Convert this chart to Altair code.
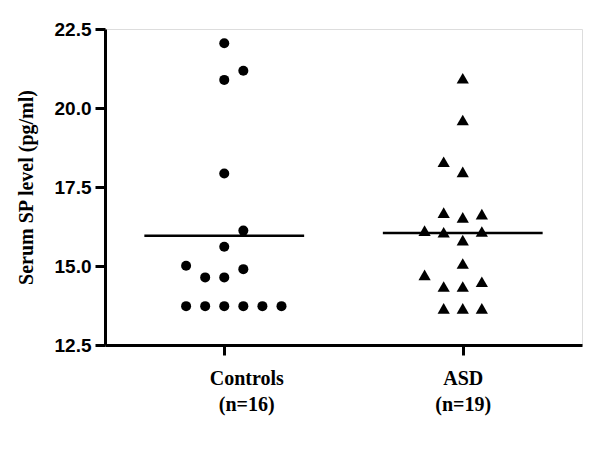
import altair as alt
import pandas as pd

# ---- data ----
group_names = ["Controls", "ASD"]
group_labels = [["Controls", "(n=16)"], ["ASD", "(n=19)"]]

controls_values = [22.05, 21.18, 20.89, 17.93, 16.12, 15.61, 15.01, 14.90,
                   14.64, 14.64, 13.73, 13.73, 13.73, 13.73, 13.73, 13.73]
controls_slots = [0, 1, 0, 0, 1, 0, -2, 1, -1, 0, -2, -1, 0, 1, 2, 3]

asd_values = [20.94, 19.62, 18.30, 17.98, 16.69, 16.54, 16.64, 16.12, 16.07,
              16.09, 15.82, 15.08, 14.72, 14.35, 14.35, 14.50, 13.66, 13.66, 13.66]
asd_slots = [0, 0, -1, 0, -1, 0, 1, -2, -1, 1, 0, 0, -2, -1, 0, 1, -1, 0, 1]

y_ticks = [12.5, 15.0, 17.5, 20.0, 22.5]

rows = []
for gi, (vals, slots) in enumerate([(controls_values, controls_slots),
                                     (asd_values, asd_slots)]):
    for v, s in zip(vals, slots):
        rows.append({"group": group_names[gi], "gidx": gi, "slot": s, "value": v})
df = pd.DataFrame(rows)

label_expr = ("datum.value == 0 ? ['%s', '%s'] : datum.value == 1 ? ['%s', '%s'] : ''"
              % (group_labels[0][0], group_labels[0][1],
                 group_labels[1][0], group_labels[1][1]))

x_scale = alt.Scale(domain=[-0.5, 1.5], nice=False, zero=False)
y_scale = alt.Scale(domain=[12.5, 22.5], nice=False, zero=False)

x_axis = alt.Axis(values=[0, 1], labelExpr=label_expr, title=None, grid=False,
                  labelFont="Liberation Serif", labelFontWeight="bold", labelFontSize=20,
                  labelLineHeight=26, labelPadding=13, labelColor="black",
                  labelOffset={"condition": {"test": "datum.value == 0", "value": 22},
                               "value": 0},
                  domainColor="black", domainWidth=3, tickColor="black",
                  tickWidth=3, tickSize=10)
y_axis = alt.Axis(values=y_ticks, format=".1f", title="Serum SP level (pg/ml)", grid=False,
                  titleFont="Liberation Serif", titleFontWeight="bold", titleFontSize=20,
                  titleColor="black", titlePadding=18,
                  labelFont="Liberation Sans", labelFontWeight="bold", labelFontSize=19,
                  labelColor="black", labelPadding=4,
                  domainColor="black", domainWidth=3, tickColor="black",
                  tickWidth=3, tickSize=10)

base = alt.Chart(df)

points = base.transform_calculate(
    xpos="datum.gidx + datum.slot * 0.08"
).mark_point(filled=True, opacity=1, color="black").encode(
    x=alt.X("xpos:Q", scale=x_scale, axis=x_axis),
    y=alt.Y("value:Q", scale=y_scale, axis=y_axis),
    shape=alt.Shape("group:N", scale=alt.Scale(domain=group_names,
                                               range=["circle", "triangle-up"]),
                    legend=None),
    size=alt.Size("group:N", scale=alt.Scale(domain=group_names, range=[100, 150]),
                  legend=None),
)

means = base.transform_aggregate(
    mean_value="mean(value)", groupby=["gidx"]
).transform_calculate(
    x1="datum.gidx - 0.335", x2="datum.gidx + 0.335"
).mark_rule(color="black", strokeWidth=2.5).encode(
    x=alt.X("x1:Q", scale=x_scale),
    x2="x2:Q",
    y=alt.Y("mean_value:Q", scale=y_scale),
)

chart = alt.layer(points, means).properties(
    width=477, height=316,
    autosize=alt.AutoSizeParams(type="none"),
    padding={"left": 97, "top": 21, "right": 10, "bottom": 80},
).configure_view(stroke=None).configure(background="white")

chart.save("out.html", embed_options={"renderer": "svg", "actions": False})
